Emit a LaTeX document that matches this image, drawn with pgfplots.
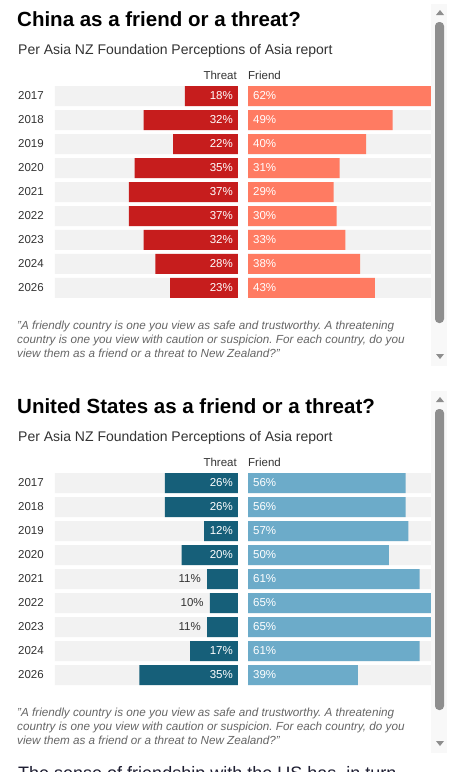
\documentclass[border=0pt]{standalone}
\usepackage{pgfplots}
\usepackage{pgfplotstable}
\pgfplotsset{compat=1.18}
\usepackage{fontspec}
\setmainfont{Liberation Sans}
\frenchspacing

\definecolor{cnThreat}{HTML}{C61D1D}
\definecolor{cnFriend}{HTML}{FF7B62}
\definecolor{usThreat}{HTML}{165F79}
\definecolor{usFriend}{HTML}{6CABC9}
\definecolor{bgbar}{HTML}{F2F2F2}
\definecolor{txt}{HTML}{333333}
\definecolor{note}{HTML}{666666}
\definecolor{scroll}{HTML}{8E8E8E}
\definecolor{scrollbg}{HTML}{F8F8F8}
\definecolor{body}{HTML}{1E1E32}

\pgfplotstableread{
row year threat friend
0 2017 18 62
1 2018 32 49
2 2019 22 40
3 2020 35 31
4 2021 37 29
5 2022 37 30
6 2023 32 33
7 2024 28 38
8 2026 23 43
}\chinadata

\pgfplotstableread{
row year threat friend
0 2017 26 56
1 2018 26 56
2 2019 12 57
3 2020 20 50
4 2021 11 61
5 2022 10 65
6 2023 11 65
7 2024 17 61
8 2026 35 39
}\usdata

\tikzset{lblfont/.style={font=\fontsize{11.5bp}{13bp}\selectfont}}
\pgfplotsset{
  halfaxis/.style={scale only axis, width=183bp, height=216bp,
    ymin=-0.5, ymax=8.5, y dir=reverse, xmin=0,
    axis line style={draw=none}, xtick=\empty, ytick=\empty,
    clip=false, anchor=north west},
  barstyle/.style={xbar, bar width=20bp, bar shift=0pt, draw=none},
  pctlabels/.style={draw=none, point meta=explicit symbolic, nodes near coords={\pgfplotspointmeta\%}},
}

\begin{document}
\begin{tikzpicture}
\useasboundingbox (0,0) rectangle (454bp,-772bp);
\fill[white] (0,0) rectangle (454bp,-772bp);

% ================= China panel =================
\node[anchor=base west, inner sep=0, font=\bfseries\fontsize{20.5bp}{24bp}\selectfont, text=black] at (17bp,-26bp) {China as a friend or a threat?};
\node[anchor=base west, inner sep=0, font=\fontsize{14bp}{16bp}\selectfont, text=txt] at (18bp,-54bp) {Per Asia NZ Foundation Perceptions of Asia report};
\node[anchor=base east, inner sep=0, font=\fontsize{11.5bp}{13bp}\selectfont, text=txt] at (237bp,-79bp) {Threat};
\node[anchor=base west, inner sep=0, font=\fontsize{11.5bp}{13bp}\selectfont, text=txt] at (248bp,-79bp) {Friend};

\begin{axis}[halfaxis, at={(55bp,-84bp)}, x dir=reverse, xmax=62]
  \addplot[barstyle, fill=bgbar] table[x expr=62, y=row] {\chinadata};
  \addplot[barstyle, fill=cnThreat] table[x=threat, y=row] {\chinadata};
  \addplot[pctlabels,
    every node near coord/.append style={anchor=east, xshift=-5bp, inner sep=0, text=white, lblfont}]
    table[x expr=0, y=row, meta=threat] {\chinadata};
  \addplot[draw=none, point meta=explicit symbolic, nodes near coords={\pgfplotspointmeta},
    every node near coord/.append style={anchor=west, xshift=-37bp, inner sep=0, text=txt, lblfont}]
    table[x expr=62, y=row, meta=year] {\chinadata};
\end{axis}

\begin{axis}[halfaxis, at={(248bp,-84bp)}, xmax=62]
  \addplot[barstyle, fill=bgbar] table[x expr=62, y=row] {\chinadata};
  \addplot[barstyle, fill=cnFriend] table[x=friend, y=row] {\chinadata};
  \addplot[pctlabels,
    every node near coord/.append style={anchor=west, xshift=5bp, inner sep=0, text=white, lblfont}]
    table[x expr=0, y=row, meta=friend] {\chinadata};
\end{axis}

\begin{scope}[every node/.style={anchor=base west, inner sep=0, text=note, font=\itshape\fontsize{11.7bp}{13bp}\selectfont}]
\node at (17bp,-329bp) {"A friendly country is one you view as safe and trustworthy. A threatening};
\node at (17bp,-343bp) {country is one you view with caution or suspicion. For each country, do you};
\node at (17bp,-357bp) {view them as a friend or a threat to New Zealand?"};
\end{scope}

% scrollbar 1
\fill[scrollbg] (431bp,-4bp) rectangle (447bp,-366bp);
\fill[scroll, rounded corners=4bp] (435bp,-22bp) rectangle (444bp,-323bp);
\fill[scroll] (436bp,-15bp) -- (444bp,-15bp) -- (440bp,-10bp) -- cycle;
\fill[scroll] (436bp,-354bp) -- (444bp,-354bp) -- (440bp,-359bp) -- cycle;

% ================= US panel =================
\node[anchor=base west, inner sep=0, font=\bfseries\fontsize{20.5bp}{24bp}\selectfont, text=black] at (17bp,-413bp) {United States as a friend or a threat?};
\node[anchor=base west, inner sep=0, font=\fontsize{14bp}{16bp}\selectfont, text=txt] at (18bp,-441bp) {Per Asia NZ Foundation Perceptions of Asia report};
\node[anchor=base east, inner sep=0, font=\fontsize{11.5bp}{13bp}\selectfont, text=txt] at (237bp,-466bp) {Threat};
\node[anchor=base west, inner sep=0, font=\fontsize{11.5bp}{13bp}\selectfont, text=txt] at (248bp,-466bp) {Friend};

\begin{axis}[halfaxis, at={(55bp,-471bp)}, x dir=reverse, xmax=65]
  \addplot[barstyle, fill=bgbar] table[x expr=65, y=row] {\usdata};
  \addplot[barstyle, fill=usThreat] table[x=threat, y=row] {\usdata};
  \addplot[pctlabels, restrict expr to domain={\thisrow{threat}}{12:100},
    every node near coord/.append style={anchor=east, xshift=-5bp, inner sep=0, text=white, lblfont}]
    table[x expr=0, y=row, meta=threat] {\usdata};
  \addplot[pctlabels, restrict expr to domain={\thisrow{threat}}{0:11.5},
    every node near coord/.append style={anchor=east, xshift=-6bp, inner sep=0, text=txt, lblfont}]
    table[x=threat, y=row, meta=threat] {\usdata};
  \addplot[draw=none, point meta=explicit symbolic, nodes near coords={\pgfplotspointmeta},
    every node near coord/.append style={anchor=west, xshift=-37bp, inner sep=0, text=txt, lblfont}]
    table[x expr=65, y=row, meta=year] {\usdata};
\end{axis}

\begin{axis}[halfaxis, at={(248bp,-471bp)}, xmax=65]
  \addplot[barstyle, fill=bgbar] table[x expr=65, y=row] {\usdata};
  \addplot[barstyle, fill=usFriend] table[x=friend, y=row] {\usdata};
  \addplot[pctlabels,
    every node near coord/.append style={anchor=west, xshift=5bp, inner sep=0, text=white, lblfont}]
    table[x expr=0, y=row, meta=friend] {\usdata};
\end{axis}

\begin{scope}[every node/.style={anchor=base west, inner sep=0, text=note, font=\itshape\fontsize{11.7bp}{13bp}\selectfont}]
\node at (17bp,-716bp) {"A friendly country is one you view as safe and trustworthy. A threatening};
\node at (17bp,-730bp) {country is one you view with caution or suspicion. For each country, do you};
\node at (17bp,-744bp) {view them as a friend or a threat to New Zealand?"};
\end{scope}

% scrollbar 2
\fill[scrollbg] (431bp,-391bp) rectangle (447bp,-753bp);
\fill[scroll, rounded corners=4bp] (435bp,-409bp) rectangle (444bp,-710bp);
\fill[scroll] (436bp,-402bp) -- (444bp,-402bp) -- (440bp,-397bp) -- cycle;
\fill[scroll] (436bp,-741bp) -- (444bp,-741bp) -- (440bp,-746bp) -- cycle;

% following article text, cut off by the frame (as in the reference)
\begin{scope}
\clip (0,0) rectangle (454bp,-772bp);
\node[anchor=base west, inner sep=0, text=body, font=\fontsize{18bp}{21bp}\selectfont] at (18bp,-779bp) {The sense of friendship with the US has, in turn};
\end{scope}
\end{tikzpicture}
\end{document}
